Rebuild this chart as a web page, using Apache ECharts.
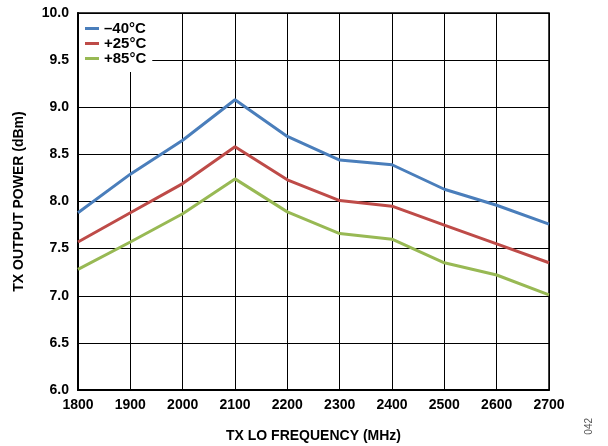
<!DOCTYPE html>
<html><head><meta charset="utf-8">
<script src="https://cdn.jsdelivr.net/npm/echarts@6/dist/echarts.min.js"></script>
<style>html,body{margin:0;padding:0;background:#fff}#c{width:608px;height:446px}</style>
</head><body><div id="c"></div>
<script>
const freqs = [1800,1900,2000,2100,2200,2300,2400,2500,2600,2700];
const seriesNames = ['\u201340\u00b0C','+25\u00b0C','+85\u00b0C'];
const valsM40 = [7.88,8.29,8.65,9.08,8.69,8.44,8.39,8.13,7.96,7.76];
const valsP25 = [7.57,7.88,8.19,8.58,8.23,8.01,7.95,7.75,7.55,7.35];
const valsP85 = [7.28,7.57,7.87,8.24,7.89,7.66,7.60,7.35,7.22,7.01];
const colors = ['#4a7ebb','#be4b48','#98b954'];
const F = 'Liberation Sans, Arial, sans-serif';
const chart = echarts.init(document.getElementById('c'), null, {renderer:'canvas'});
const mk = (name, vals, col) => ({
  name, type:'line', data: freqs.map((f,i)=>[f, vals[i]]),
  symbol:'none', lineStyle:{color:col, width:3}, itemStyle:{color:col}, z:3
});
chart.setOption({
  animation:false,
  grid:{left:78, right:59, top:13, bottom:56, show:true, borderColor:'#000', borderWidth:1.5, containLabel:false, outerBoundsMode:'none'},
  legend:{
    data: seriesNames, orient:'vertical', left:79, top:14, backgroundColor:'#fff',
    padding:[7,6,6,6], itemGap:0, itemWidth:14, itemHeight:3, icon:'rect',
    textStyle:{fontFamily:F, fontWeight:'bold', fontSize:15, color:'#000'}, z:5
  },
  xAxis:{
    type:'value', min:1800, max:2700, interval:100,
    name:'TX LO FREQUENCY (MHz)', nameLocation:'middle', nameGap:39,
    nameTextStyle:{fontFamily:F, fontWeight:'bold', fontSize:14, color:'#000'},
    axisLine:{show:true, lineStyle:{color:'#000', width:2}},
    axisTick:{show:false},
    axisLabel:{fontFamily:F, fontWeight:'bold', fontSize:14, color:'#000', margin:8, formatter:v=>String(v)},
    splitLine:{show:true, lineStyle:{color:'#000', width:1}}
  },
  yAxis:{
    type:'value', min:6, max:10, interval:0.5,
    name:'TX OUTPUT POWER (dBm)', nameLocation:'middle', nameGap:52,
    nameTextStyle:{fontFamily:F, fontWeight:'bold', fontSize:14, color:'#000'},
    axisLine:{show:true, lineStyle:{color:'#000', width:2}},
    axisTick:{show:false},
    axisLabel:{fontFamily:F, fontWeight:'bold', fontSize:14, color:'#000', margin:9, formatter:v=>v.toFixed(1)},
    splitLine:{show:true, lineStyle:{color:'#000', width:1}}
  },
  graphic:[{type:'text', left:584, top:418, rotation:Math.PI/2,
    style:{text:'042', fontFamily:F, fontSize:10, fill:'#555'}}],
  series:[mk(seriesNames[0], valsM40, colors[0]), mk(seriesNames[1], valsP25, colors[1]), mk(seriesNames[2], valsP85, colors[2])]
});
</script></body></html>
